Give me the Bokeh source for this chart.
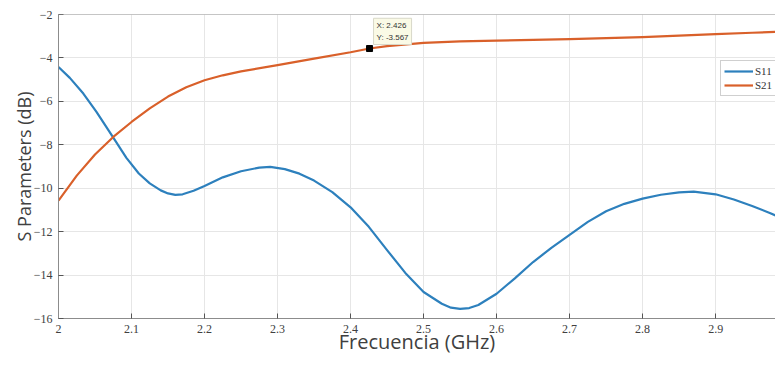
from bokeh.plotting import figure
from bokeh.embed import file_html
from bokeh.resources import INLINE
from bokeh.models import (FixedTicker, NumeralTickFormatter, Legend, LegendItem,
                          Label, Range1d, Span)

# ---- data ----
s11_freq = [2.000, 2.0155, 2.034, 2.052, 2.0726, 2.093, 2.110, 2.125, 2.140, 2.150,
            2.160, 2.170, 2.185, 2.200, 2.225, 2.250, 2.275, 2.290, 2.310, 2.330,
            2.350, 2.375, 2.400, 2.425, 2.450, 2.475, 2.500, 2.525, 2.5375, 2.550,
            2.5625, 2.575, 2.600, 2.625, 2.650, 2.675, 2.700, 2.725, 2.750, 2.775,
            2.800, 2.825, 2.850, 2.870, 2.900, 2.925, 2.950, 2.975, 2.993]
s11_db = [-4.42, -4.92, -5.64, -6.48, -7.54, -8.60, -9.32, -9.78, -10.10, -10.24,
          -10.31, -10.28, -10.12, -9.90, -9.50, -9.22, -9.05, -9.02, -9.12, -9.33,
          -9.65, -10.18, -10.88, -11.78, -12.85, -13.90, -14.78, -15.32, -15.50, -15.56,
          -15.52, -15.38, -14.86, -14.15, -13.40, -12.75, -12.15, -11.55, -11.06, -10.72,
          -10.48, -10.30, -10.19, -10.16, -10.28, -10.52, -10.82, -11.15, -11.42]

s21_freq = [2.000, 2.025, 2.050, 2.075, 2.100, 2.125, 2.150, 2.175, 2.200, 2.225,
            2.250, 2.300, 2.350, 2.400, 2.426, 2.450, 2.500, 2.550, 2.600, 2.650,
            2.700, 2.750, 2.800, 2.850, 2.900, 2.950, 2.993]
s21_db = [-10.57, -9.42, -8.45, -7.64, -6.95, -6.32, -5.78, -5.35, -5.03, -4.80,
          -4.62, -4.33, -4.03, -3.74, -3.567, -3.46, -3.31, -3.24, -3.20, -3.17,
          -3.13, -3.09, -3.04, -2.97, -2.90, -2.84, -2.79]

series_names = ["S11", "S21"]
x_ticks = [2.0, 2.1, 2.2, 2.3, 2.4, 2.5, 2.6, 2.7, 2.8, 2.9, 3.0]
y_ticks = [-16, -14, -12, -10, -8, -6, -4, -2]
x_title = "Frecuencia (GHz)"
y_title = "S Parameters (dB)"
tip_x = 2.426
tip_y = -3.567
tip_text = "X: 2.426\nY: -3.567"

BLUE = "#2d80bd"
ORANGE = "#d9602a"
TXT = "#404040"
AXC = "#8c8c8c"

p = figure(width=775, height=357, output_backend="svg", toolbar_location=None,
           x_range=Range1d(2.0, 2.982), y_range=Range1d(-16, -2),
           min_border_left=58, min_border_right=0, min_border_top=14, min_border_bottom=0)
p.outline_line_color = None
p.background_fill_color = "white"
p.border_fill_color = "white"

p.add_layout(Span(location=-2, dimension="width", line_color=AXC, line_width=1))

r1 = p.line(s11_freq, s11_db, line_color=BLUE, line_width=2.2, line_join="round")
r2 = p.line(s21_freq, s21_db, line_color=ORANGE, line_width=2.2, line_join="round")

# data tip
p.scatter([tip_x], [tip_y], marker="square", size=6, color="black")
p.add_layout(Label(x=tip_x, y=tip_y, x_offset=4, y_offset=4, text=tip_text,
                   text_font="Liberation Sans", text_font_size="8px", text_color="#333333",
                   text_line_height=1.25,
                   background_fill_color="#fafae6", background_fill_alpha=1.0,
                   border_line_color="#d8d8c8", border_line_width=1, padding=3))

# axes
for ax in (p.xaxis[0], p.yaxis[0]):
    ax.axis_line_color = AXC
    ax.major_tick_line_color = "#555555"
    ax.major_tick_in = 5
    ax.major_tick_out = 0
    ax.minor_tick_line_color = None
    ax.major_label_text_font = "Liberation Serif"
    ax.major_label_text_font_size = "12px"
    ax.major_label_text_color = TXT
    ax.axis_label_text_font = "Open Sans"
    ax.axis_label_text_font_style = "normal"
    ax.axis_label_text_color = TXT

p.xaxis[0].ticker = FixedTicker(ticks=x_ticks)
p.xaxis[0].formatter = NumeralTickFormatter(format="0.[0]")
p.xaxis[0].axis_label = x_title
p.xaxis[0].axis_label_text_font_size = "20px"
p.xaxis[0].major_label_standoff = 6
p.xaxis[0].axis_label_standoff = -8

p.yaxis[0].ticker = FixedTicker(ticks=y_ticks)
p.yaxis[0].axis_label = y_title
p.yaxis[0].axis_label_text_font_size = "18px"
p.yaxis[0].major_label_standoff = 6
p.yaxis[0].axis_label_standoff = -5

p.xgrid.ticker = FixedTicker(ticks=x_ticks)
p.ygrid.ticker = FixedTicker(ticks=y_ticks)
p.grid.grid_line_color = "#e6e6e6"
p.grid.grid_line_width = 1

legend = Legend(items=[LegendItem(label=series_names[0], renderers=[r1]),
                       LegendItem(label=series_names[1], renderers=[r2])],
                location=(662, 222))
legend.label_text_font = "Liberation Serif"
legend.label_text_font_size = "11px"
legend.label_text_color = "#333333"
legend.glyph_width = 29
legend.glyph_height = 14
legend.label_height = 14
legend.label_width = 16
legend.label_standoff = 2
legend.padding = 3
legend.spacing = 0
legend.margin = 0
legend.border_line_color = "#a0a0a0"
legend.border_line_width = 1
legend.background_fill_alpha = 1.0
p.add_layout(legend, "center")

open("out.html", "w").write(file_html(p, INLINE))
